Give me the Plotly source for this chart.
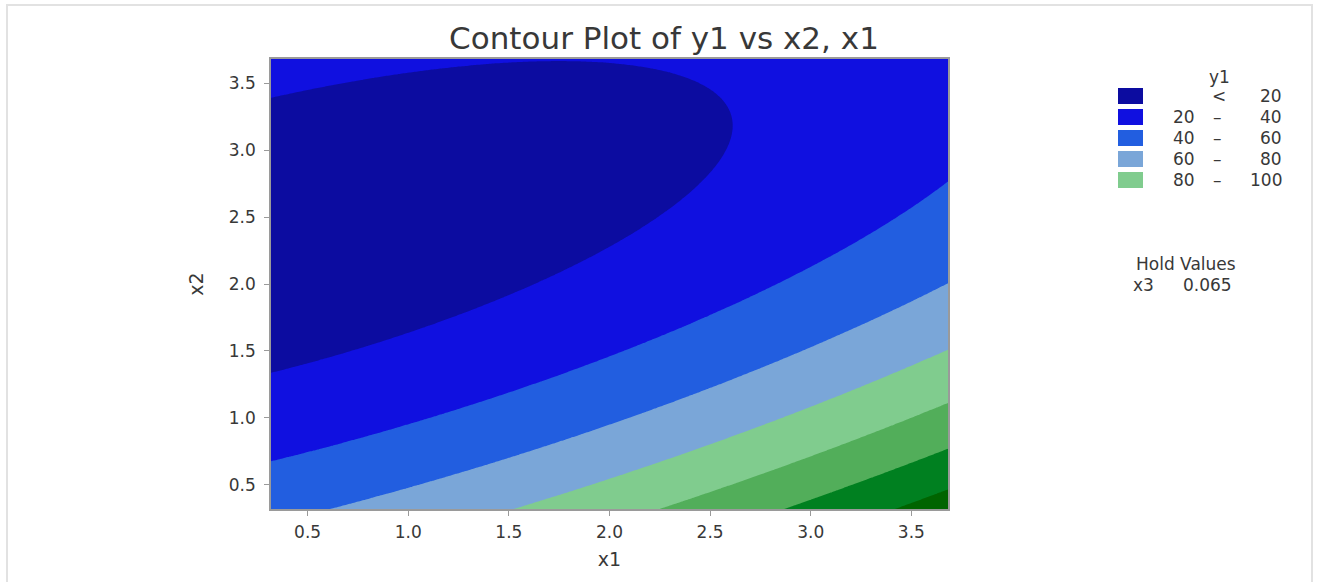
import numpy as np
import plotly.graph_objects as go

# Fitted second-order response surface for y1 in x1, x2 (x3 held at 0.065)
# y1 = b0 + b1*x1 + b2*x2 + b11*x1^2 + b22*x2^2 + b12*x1*x2
model_terms = ["const", "x1", "x2", "x1^2", "x2^2", "x1*x2"]
model_coefs = [64.6568, 17.0180, -50.0734, 3.4774, 11.1274, -7.9609]

x_range = [0.318, 3.682]
y_range = [0.318, 3.682]

contour_levels = [20, 40, 60, 80, 100, 120, 140]
band_colors = ["#0C0CA0", "#1010E0", "#225EE0", "#7AA6D8",
               "#80CC8E", "#52AE5A", "#008020", "#006400"]

legend_lo = [None, 20, 40, 60, 80]
legend_hi = [20, 40, 60, 80, 100]

hold_name = "x3"
hold_value = "0.065"

FONT = "DejaVu Sans"
TXT = "#383838"

# evaluate surface on a grid
g1 = np.linspace(x_range[0], x_range[1], 241)
g2 = np.linspace(y_range[0], y_range[1], 241)
X1, X2 = np.meshgrid(g1, g2)
b0, b1, b2, b11, b22, b12 = model_coefs
Z = b0 + b1 * X1 + b2 * X2 + b11 * X1 ** 2 + b22 * X2 ** 2 + b12 * X1 * X2

# stepped colour scale: one flat colour per band
n = len(band_colors)
cscale = []
for i, c in enumerate(band_colors):
    lo = max(0.0, (i - 0.5) / (n - 1))
    hi = min(1.0, (i + 0.5) / (n - 1))
    cscale += [[lo, c], [hi, c]]

step = contour_levels[1] - contour_levels[0]
fig = go.Figure(go.Contour(
    x=g1, y=g2, z=Z, colorscale=cscale, showscale=False,
    contours=dict(start=contour_levels[0], end=contour_levels[-1], size=step, coloring="fill"),
    line=dict(width=0), hoverinfo="skip"))

# plot area in pixels: x 271..948, y 59..509
L, R, T, B = 271, 948, 59, 509
W, H = R - L, B - T

def px(x):
    return (x - L) / W

def py(y):
    return (B - y) / H

fig.update_layout(
    width=1317, height=582,
    margin=dict(l=L, r=1317 - R, t=T, b=582 - B),
    paper_bgcolor="white", plot_bgcolor="white",
    title=dict(text="Contour Plot of y1 vs x2, x1", xref="container", x=664 / 1317,
               xanchor="center", y=1 - 38 / 582, yanchor="middle",
               font=dict(family=FONT, size=31, color=TXT)),
)
axis_common = dict(
    dtick=0.5, tick0=0.5, tickformat=".1f", showgrid=False, zeroline=False,
    showline=True, linecolor="#9a9a9a", linewidth=1.5, mirror=True,
    ticks="outside", ticklen=5, tickcolor="#9a9a9a",
    tickfont=dict(family=FONT, size=17, color=TXT),
)
fig.update_xaxes(range=x_range, **axis_common, ticklabelstandoff=2,
                 title=dict(text="x1", font=dict(family=FONT, size=19, color=TXT), standoff=12))
fig.update_yaxes(range=y_range, **axis_common, ticklabelstandoff=5,
                 title=dict(text="x2", font=dict(family=FONT, size=19, color=TXT), standoff=20))

shapes = []
annos = []

# outer frame
shapes.append(dict(type="rect", xref="paper", yref="paper",
                   x0=px(7), x1=px(1312), y0=py(640), y1=py(5),
                   line=dict(color="#e2e2e2", width=2), fillcolor="rgba(0,0,0,0)", layer="below"))

# legend for y1 bands
lf = dict(family=FONT, size=17, color=TXT)
annos.append(dict(text="y1", x=px(1219), y=py(77), xanchor="center", yanchor="middle", font=lf))
for i, (lo, hi) in enumerate(zip(legend_lo, legend_hi)):
    yc = 96 + 21 * i
    shapes.append(dict(type="rect", xref="paper", yref="paper",
                       x0=px(1118), x1=px(1143), y0=py(yc + 8), y1=py(yc - 8),
                       line=dict(width=0), fillcolor=band_colors[i]))
    if lo is None:
        annos.append(dict(text="<", x=px(1219), y=py(yc), xanchor="center", yanchor="middle", font=lf))
    else:
        annos.append(dict(text=str(lo), x=px(1197), y=py(yc), xanchor="right", yanchor="middle", font=lf))
        annos.append(dict(text="–", x=px(1217), y=py(yc), xanchor="center", yanchor="middle", font=lf))
    annos.append(dict(text=str(hi), x=px(1284), y=py(yc), xanchor="right", yanchor="middle", font=lf))

# hold values block
annos.append(dict(text="Hold Values", x=px(1186), y=py(264), xanchor="center", yanchor="middle", font=lf))
annos.append(dict(text=hold_name, x=px(1143), y=py(285), xanchor="center", yanchor="middle", font=lf))
annos.append(dict(text=hold_value, x=px(1207), y=py(285), xanchor="center", yanchor="middle", font=lf))

for a in annos:
    a.update(xref="paper", yref="paper", showarrow=False)
fig.update_layout(shapes=shapes, annotations=annos)

fig.write_html("out.html")
